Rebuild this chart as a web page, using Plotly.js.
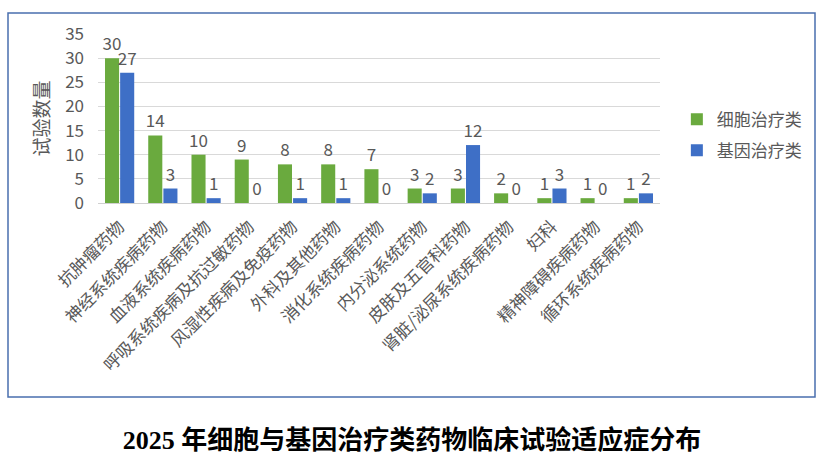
<!DOCTYPE html>
<html>
<head>
<meta charset="utf-8">
<script src="https://cdn.plot.ly/plotly-3.0.1.min.js"></script>
<style>
  body { margin: 0; background: #fff; }
  #graph { width: 832px; height: 476px; }
</style>
</head>
<body>
<div id="graph"></div>
<script>
// categories and counts
var categories = [
  "抗肿瘤药物", "神经系统疾病药物", "血液系统疾病药物", "呼吸系统疾病及抗过敏药物",
  "风湿性疾病及免疫药物", "外科及其他药物", "消化系统疾病药物", "内分泌系统药物",
  "皮肤及五官科药物", "肾脏/泌尿系统疾病药物", "妇科", "精神障碍疾病药物", "循环系统疾病药物"
];
var cellTherapy = [30, 14, 10, 9, 8, 8, 7, 3, 3, 2, 1, 1, 1];
var geneTherapy = [27, 3, 1, 0, 1, 1, 0, 2, 12, 0, 3, 0, 2];
var seriesNames = ["细胞治疗类", "基因治疗类"];
var yTicks = [0, 5, 10, 15, 20, 25, 30, 35];

var cjk = "Noto Sans CJK SC, sans-serif";
var grey = "#595959";

function barTrace(vals, name, color, group) {
  return {
    type: "bar",
    x: categories,
    y: vals,
    name: name,
    legendgroup: group,
    marker: { color: color },
    text: vals.map(String),
    textposition: "outside",
    constraintext: "none",
    textfont: { family: cjk, size: 17, color: grey },
    cliponaxis: false,
    hoverinfo: "x+y"
  };
}

var data = [
  barTrace(cellTherapy, seriesNames[0], "#6aaa3e", "a"),
  barTrace(geneTherapy, seriesNames[1], "#3e6fc6", "b")
];

var layout = {
  width: 832,
  height: 476,
  margin: { l: 98, r: 172, t: 34, b: 273 },
  paper_bgcolor: "#ffffff",
  plot_bgcolor: "#ffffff",
  font: { family: cjk, color: grey },
  barmode: "group",
  bargap: 0.3,
  bargroupgap: 0.07,
  showlegend: true,
  legend: {
    x: 1.03, y: 0.6, xanchor: "left", yanchor: "top",
    font: { family: cjk, size: 17, color: grey },
    traceorder: "grouped",
    tracegroupgap: 6,
    itemwidth: 30
  },
  title: {
    text: "<b>2025 年细胞与基因治疗类药物临床试验适应症分布</b>",
    font: { family: "Liberation Serif, Noto Sans CJK SC, serif", size: 26, color: "#000000" },
    x: 412 / 832, xanchor: "center",
    y: 1 - 440 / 476, yanchor: "middle",
    xref: "container", yref: "container"
  },
  xaxis: {
    tickangle: -45,
    tickfont: { family: cjk, size: 17, color: grey },
    showline: true,
    linecolor: "#d0d0d0",
    linewidth: 1,
    ticks: "outside",
    ticklen: 6,
    tickcolor: "rgba(0,0,0,0)",
    fixedrange: true
  },
  yaxis: {
    range: [0, 35],
    tickvals: yTicks,
    tickfont: { family: cjk, size: 17, color: grey },
    ticklabelstandoff: 13,
    showgrid: true,
    gridcolor: "#d9d9d9",
    gridwidth: 1,
    zeroline: false,
    showline: false,
    ticks: "",
    title: {
      text: "试验数量",
      font: { family: cjk, size: 19, color: grey },
      standoff: 10
    }
  },
  shapes: [{
    type: "rect",
    xref: "paper", yref: "paper",
    x0: (8 - 98) / 562, x1: (815 - 98) / 562,
    y0: (203 - 397) / 169, y1: (203 - 13) / 169,
    line: { color: "#4a6fae", width: 1.5 },
    fillcolor: "rgba(0,0,0,0)",
    layer: "below"
  }]
};

Plotly.newPlot("graph", data, layout, { displayModeBar: false, staticPlot: true });
</script>
</body>
</html>
